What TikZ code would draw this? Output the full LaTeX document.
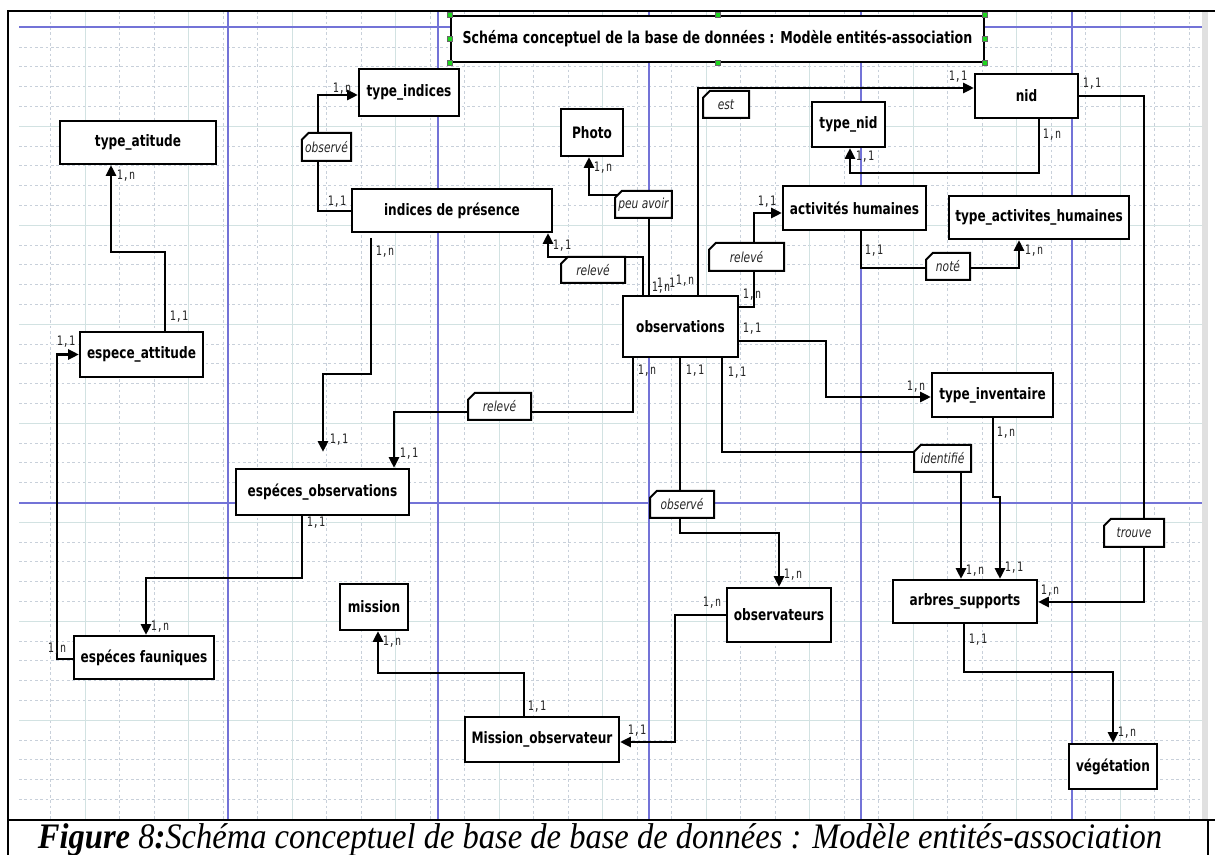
\documentclass[tikz,border=0pt]{standalone}
\usepackage{fontspec}
\usepackage{xcolor}
\usepackage{graphicx}
\usepackage{tikz}
\usetikzlibrary{arrows.meta, shapes.misc}

\newfontfamily\erfont{DejaVu Sans}[FakeStretch=0.77]
\newfontfamily\cardfont{DejaVu Sans Mono}[FakeStretch=0.77]
\newfontfamily\capfont{Liberation Serif}

\definecolor{pagebreak}{RGB}{115,115,215}
\definecolor{gridminor}{RGB}{200,208,218}
\definecolor{gridmajor}{RGB}{210,226,226}
\definecolor{handlegreen}{RGB}{30,215,30}

\pgfdeclarelayer{grid}
\pgfdeclarelayer{links}
\pgfsetlayers{grid,links,main}

\begin{document}
\begin{tikzpicture}[x=0.75pt, y=-0.75pt,
		sz/.style 2 args={minimum width=#1*0.75pt, minimum height=#2*0.75pt},
		entity/.style={draw, line width=1.7pt, fill=white, inner sep=0pt, font=\erfont\bfseries\fontsize{11.8}{13}\selectfont},
		assoc/.style={chamfered rectangle, chamfered rectangle corners=north west, chamfered rectangle xsep=2.5pt, chamfered rectangle ysep=2.5pt, draw, line width=1.5pt, fill=white, inner sep=0pt, text=black!85, font=\erfont\itshape\fontsize{10.4}{12}\selectfont},
		card/.style={inner sep=0pt, text=black!85, font=\cardfont\fontsize{9.8}{11}\selectfont},
		link/.style={line width=1.7pt, -{Triangle[length=8pt, width=7.5pt]}},
		handlebox/.style={draw=black!60, line width=0.3pt, fill=handlegreen, inner sep=0pt, minimum size=3.8pt}]
		\def\gdx{34.5};
		\def\gdy{19.8};
		
		\useasboundingbox (0,0) rectangle (1215,855);
		
		\begin{pgfonlayer}{grid}
			\fill[white] (0,0) rectangle (1215,855);
			\fill[black!12] (1202,11) rectangle (1208,820);
			\foreach \k in {1,...,34}
				\draw[gridminor, line width=0.4pt, dash pattern=on 2pt off 2pt] ({16+\gdx*\k},11) -- ({16+\gdx*\k},820);
			\foreach \k in {1,...,39}
				\draw[gridminor, line width=0.4pt, dash pattern=on 2pt off 2pt] (19,{27+\gdy*\k}) -- (1202,{27+\gdy*\k});
			\foreach \k in {2,5,...,32}
				\draw[gridmajor, line width=0.5pt] ({16+\gdx*\k},11) -- ({16+\gdx*\k},820);
			\foreach \k in {5,10,...,35}
				\draw[gridmajor, line width=0.5pt] (19,{27+\gdy*\k}) -- (1202,{27+\gdy*\k});
			\foreach \bx in {228,438,649,861,1072}
				\draw[pagebreak, line width=0.9pt] (\bx,11) -- (\bx,820);
			\foreach \by in {27,503}
				\draw[pagebreak, line width=0.9pt] (19,\by) -- (1202,\by);
			\draw[line width=1.5pt] (8,855) -- (8,11) -- (1215,11);
			\draw[line width=1.5pt] (8,820) -- (1215,820);
			\draw[line width=1.5pt] (1208,820) -- (1208,855);
		\end{pgfonlayer}
		
		\node[entity, sz={533}{46}, font=\erfont\bfseries\fontsize{12.3}{14}\selectfont] (title) at (717.5,39) {Schéma conceptuel de la base de données : Modèle entités-association};
		\foreach \a in {north west, west, south west, north, south, north east, east, south east}
			\node[handlebox] (handle \a) at (title.\a) {};
		
		\node[entity, sz={156}{43}] (typeatt) at (138,142.5) {type\_atitude};
		\node[entity, sz={123}{45}] (espatt) at (141.5,354.5) {espece\_attitude};
		\node[entity, sz={140}{43}] (espfaun) at (144,657.5) {espéces fauniques};
		\node[entity, sz={173}{46}] (espobs) at (322.5,492) {espéces\_observations};
		\node[entity, sz={100}{47}] (typeind) at (409,92.5) {type\_indices};
		\node[entity, sz={200}{43}] (indices) at (452,210.5) {indices de présence};
		\node[entity, sz={62}{47}] (photo) at (592,132.5) {Photo};
		\node[entity, sz={68}{46}] (mission) at (374,607) {mission};
		\node[entity, sz={154}{45}] (missobs) at (542,739.5) {Mission\_observateur};
		\node[entity, sz={115}{61}] (obs) at (680.5,326.5) {observations};
		\node[entity, sz={104}{54}] (observ) at (779,615) {observateurs};
		\node[entity, sz={73}{45}] (typenid) at (848.5,124.5) {type\_nid};
		\node[entity, sz={103}{44}] (nid) at (1026.5,96) {nid};
		\node[entity, sz={143}{44}] (acth) at (854.5,208) {activités humaines};
		\node[entity, sz={180}{43}] (typeact) at (1039,217.5) {type\_activites\_humaines};
		\node[entity, sz={121}{44}] (typeinv) at (992.5,395) {type\_inventaire};
		\node[entity, sz={144}{43}] (arbres) at (965,601.5) {arbres\_supports};
		\node[entity, sz={88}{45}] (veget) at (1113,766.5) {végétation};
		
		\node[assoc, sz={49}{28}] (lobsv1) at (326.5,147) {observé};
		\node[assoc, sz={55}{27}] (lpeu) at (643.5,204.5) {peu avoir};
		\node[assoc, sz={64}{26}] (lrel1) at (593,270) {relevé};
		\node[assoc, sz={46}{27}] (lest) at (726,104.5) {est};
		\node[assoc, sz={75}{28}] (lrel2) at (746.5,257) {relevé};
		\node[assoc, sz={44}{27}] (lnote) at (948,266.5) {noté};
		\node[assoc, sz={63}{27}] (lrel3) at (499.5,406.5) {relevé};
		\node[assoc, sz={64}{27}] (lobsv2) at (682,504.5) {observé};
		\node[assoc, sz={57}{27}] (lident) at (942.5,458.5) {identifié};
		\node[assoc, sz={60}{28}] (ltrouve) at (1134,533) {trouve};
		
		\foreach [count=\i] \cx/\cy/\cb in {126/176/n, 179/317/1, 66/342/1, 57/649/n, 316/523/1, 160/627/n, 385/252/n, 339/440/1, 647/371/n, 409/454/1, 695/371/1, 793/575/n, 712/603/n, 637/731/1, 537/707/1, 392/642/n, 562/246/1, 661/288/n, 666/284/1, 603/168/n, 685/281/n, 958/77/1, 1052/135/n, 865/157/1, 1092/84/1, 1050/591/n, 752/295/n, 767/202/1, 874/251/1, 1034/251/n, 752/329/1, 916/387/n, 737/373/1, 975/571/n, 1006/433/n, 1014/568/1, 978/640/1, 1127/733/n, 337/202/1, 342/89/n}
			\node[card] (card\i) at (\cx,\cy) {1,\cb};
		
		\node[anchor=base, inner sep=0pt] (caption) at (600,848) {\resizebox{843pt}{18.7pt}{\capfont\itshape\textbf{Figure} 8\textbf{:}Schéma conceptuel de base de base de données : Modèle entités-association}};
		
		\begin{pgfonlayer}{links}
			\draw[link] (espatt.north -| 165,0) |- (111,252) -- (typeatt.south -| 111,0);
			\draw[link] (espfaun.west |- 0,659) -| (57,354.5) -- (espatt.west);
			\draw[link] (espobs.south -| 302,0) |- (146,578) -- (espfaun.north -| 146,0);
			\draw[link, shorten <=3.5pt, shorten >=12pt] (indices.south -| 371,0) |- (323,374) -- (espobs.north -| 323,0);
			\draw[link] (obs.south -| 633,0) |- (394,412) -- (espobs.north -| 394,0);
			\draw[link] (obs.south -| 680,0) |- (779,533) -- (observ.north -| 779,0);
			\draw[link] (observ.west) -| (675,742) -- (missobs.east |- 0,742);
			\draw[link] (missobs.north -| 524,0) |- (378,673) -- (mission.south -| 378,0);
			\draw[link] (obs.north -| 643,0) |- (548,257) -- (indices.south -| 548,0);
			\draw[link] (obs.north -| 649,0) |- (589,195) -- (photo.south -| 589,0);
			\draw[link] (obs.north -| 698,0) |- (nid.west |- 0,88);
			\draw[link] (nid.south -| 1039,0) |- (850,173) -- (typenid.south -| 850,0);
			\draw[link] (nid.east) -| (1144,602) -- (arbres.east |- 0,602);
			\draw[link] (obs.east |- 0,307) -| (754,213) -- (acth.west |- 0,213);
			\draw[link] (acth.south -| 861,0) |- (1019,268) -- (typeact.south -| 1019,0);
			\draw[link] (obs.east |- 0,341) -| (826,397) -- (typeinv.west |- 0,397);
			\draw[link] (obs.south -| 722,0) |- (961,452) -- (arbres.north -| 961,0);
			\draw[link] (typeinv.south -| 993,0) |- (1000,497) -- (arbres.north -| 1000,0);
			\draw[link] (arbres.south -| 964,0) |- (1113,672) -- (veget.north -| 1113,0);
			\draw[link] (indices.west |- 0,211) -| (318,95) -- (typeind.west |- 0,95);
		\end{pgfonlayer}
	\end{tikzpicture}
\end{document}
